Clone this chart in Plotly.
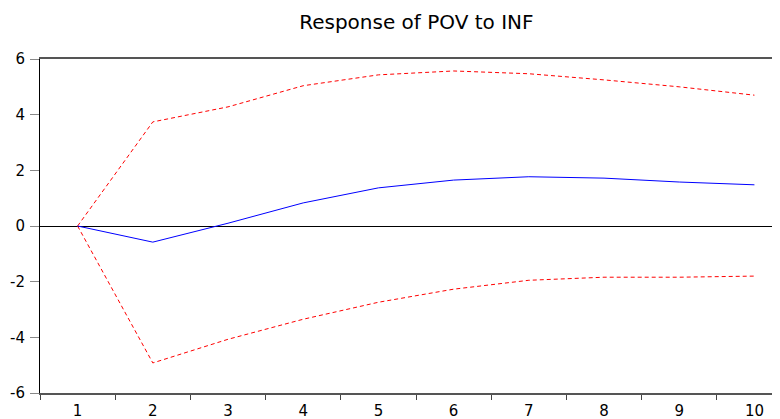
import plotly.graph_objects as go

periods = ["1", "2", "3", "4", "5", "6", "7", "8", "9", "10"]
response = [0.0, -0.58, 0.10, 0.83, 1.37, 1.65, 1.77, 1.72, 1.58, 1.48]
upper = [0.0, 3.74, 4.28, 5.04, 5.43, 5.57, 5.47, 5.25, 5.00, 4.70]
lower = [0.0, -4.92, -4.07, -3.35, -2.74, -2.27, -1.95, -1.84, -1.84, -1.80]
y_ticks = [-6, -4, -2, 0, 2, 4, 6]
y_tick_labels = ["-6", "-4", "-2", "0", "2", "4", "6"]

fig = go.Figure()
fig.add_trace(go.Scatter(x=periods, y=upper, mode="lines",
                         line=dict(color="#ff0000", width=1, dash="4px,3px")))
fig.add_trace(go.Scatter(x=periods, y=lower, mode="lines",
                         line=dict(color="#ff0000", width=1, dash="4px,3px")))
fig.add_trace(go.Scatter(x=periods, y=response, mode="lines",
                         line=dict(color="#0000ff", width=1)))

# page body has an 8px margin; figure is sized to fill the rest of the window
fig.update_layout(
    width=772, height=411,
    margin=dict(l=32, r=0, t=51, b=26, autoexpand=False),
    paper_bgcolor="white", plot_bgcolor="white",
    showlegend=False,
    font=dict(family="DejaVu Sans, Arial", size=15, color="black"),
    title=dict(text="Response of POV to INF", x=0.529, xanchor="center",
               y=0.966, yanchor="middle", font=dict(size=20)),
)
fig.update_xaxes(
    type="category", range=[-0.5, 9.34], automargin=False,
    tickson="boundaries", ticks="outside", ticklen=5, tickcolor="#444",
    showline=True, linecolor="#555", linewidth=2, mirror=True,
    showgrid=False, zeroline=False, tickfont=dict(size=15),
    ticklabelstandoff=3,
)
fig.update_yaxes(
    range=[-6, 6], tickvals=y_ticks, ticktext=y_tick_labels,
    ticks="outside", ticklen=9,
    tickcolor="#888", showline=True, linecolor="black", linewidth=1,
    showgrid=False, zeroline=True, zerolinecolor="black", zerolinewidth=1,
    tickfont=dict(size=15), automargin=False, ticklabelstandoff=2,
)
fig.write_html("out.html")
